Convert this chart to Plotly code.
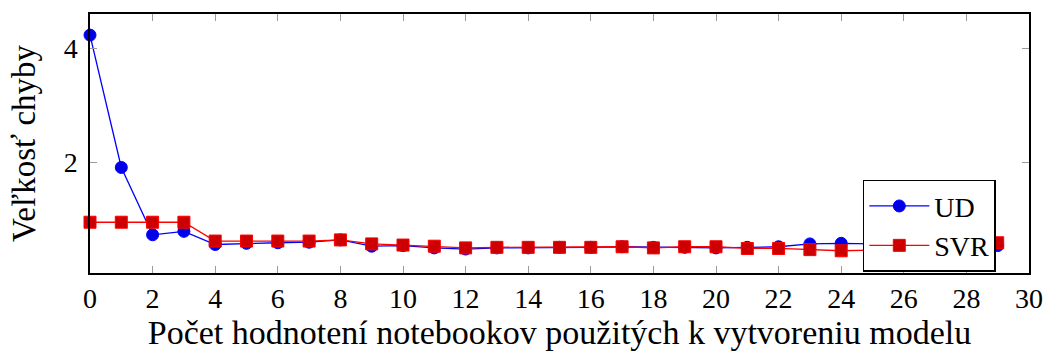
import plotly.graph_objects as go

x_vals = list(range(30))
ud_vals = [4.23, 1.91, 0.73, 0.79, 0.56, 0.58, 0.59, 0.60, 0.64, 0.53,
           0.54, 0.50, 0.48, 0.50, 0.50, 0.51, 0.51, 0.52, 0.51, 0.51,
           0.50, 0.51, 0.52, 0.57, 0.58, 0.57, 0.57, 0.57, 0.56, 0.54]
svr_vals = [0.95, 0.95, 0.95, 0.95, 0.62, 0.62, 0.62, 0.62, 0.64, 0.57,
            0.55, 0.53, 0.50, 0.51, 0.51, 0.51, 0.51, 0.52, 0.50, 0.52,
            0.52, 0.49, 0.49, 0.47, 0.45, 0.46, 0.46, 0.47, 0.50, 0.59]
x_ticks = list(range(0, 31, 2))
y_ticks = [2, 4]

FONT = "Liberation Serif"

fig = go.Figure()
fig.add_trace(go.Scatter(
    x=x_vals, y=ud_vals, name="UD", mode="lines+markers",
    line=dict(color="#0000ff", width=1.3),
    marker=dict(symbol="circle", size=12, color="#0000e6",
                line=dict(color="#0000ff", width=1)),
    cliponaxis=False,
))
fig.add_trace(go.Scatter(
    x=x_vals, y=svr_vals, name="SVR", mode="lines+markers",
    line=dict(color="#ff0000", width=1.3),
    marker=dict(symbol="square", size=12, color="#cc0000",
                line=dict(color="#ff0000", width=1)),
    cliponaxis=False,
))

axis_common = dict(
    showline=True, linecolor="black", linewidth=1.5, mirror="ticks",
    ticks="inside", ticklen=7, tickcolor="#9a9a9a", tickwidth=1.2,
    showgrid=False, zeroline=False, automargin=False,
    tickfont=dict(family=FONT, size=28, color="black"),
)

fig.update_layout(
    width=1047, height=354,
    margin=dict(l=90, r=18, t=14, b=81),
    paper_bgcolor="white", plot_bgcolor="white",
    font=dict(family=FONT, color="black"),
    xaxis=dict(
        range=[0, 30], tickvals=x_ticks,
        title=dict(text="Počet hodnotení notebookov použitých k vytvoreniu modelu",
                   font=dict(family=FONT, size=34), standoff=6),
        ticklabelstandoff=0,
        **axis_common,
    ),
    yaxis=dict(
        range=[0.06, 4.60], tickvals=y_ticks,
        title=dict(text="Veľkosť chyby", font=dict(family=FONT, size=33), standoff=18),
        ticklabelstandoff=5,
        **axis_common,
    ),
    legend=dict(
        x=0.823, y=0.36, xanchor="left", yanchor="top",
        bgcolor="white", bordercolor="black", borderwidth=1.5,
        font=dict(family=FONT, size=28),
        itemwidth=60, tracegroupgap=0,
    ),
    showlegend=True,
)

fig.write_html("out.html",
               config={"displayModeBar": False},
               post_script="document.body.style.margin='0';document.body.style.overflow='hidden';")
